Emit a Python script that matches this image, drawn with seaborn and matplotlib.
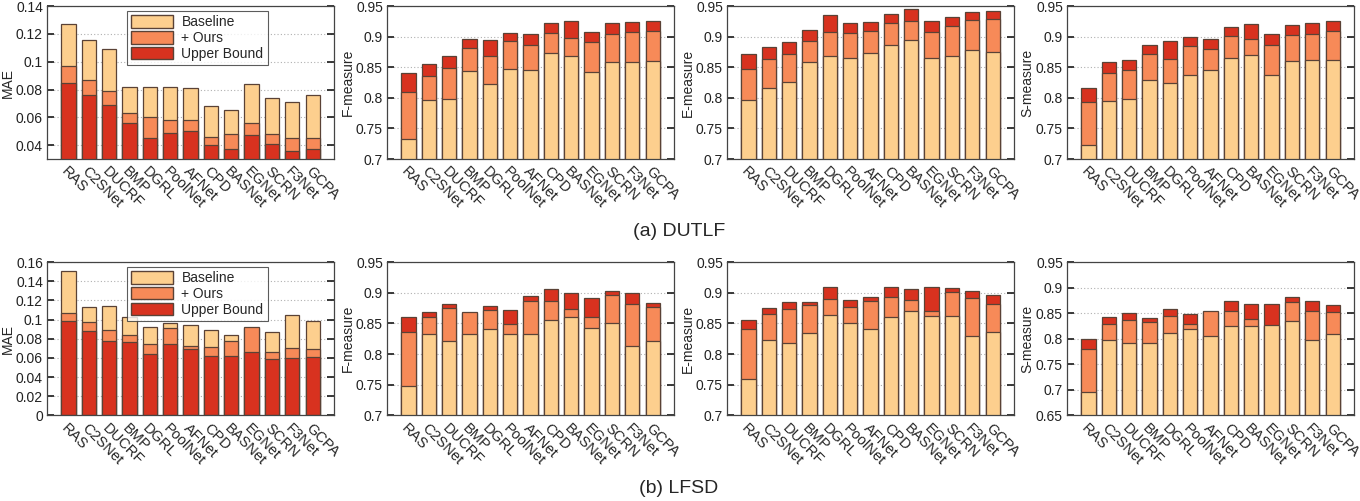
import matplotlib
matplotlib.use("Agg")
import matplotlib.pyplot as plt
from matplotlib.patches import Patch
from matplotlib.ticker import FuncFormatter
import seaborn as sns

sns.set_theme(style="white")
plt.rcParams['font.family'] = ['Liberation Sans', 'DejaVu Sans']

methods = ['RAS', 'C2SNet', 'DUCRF', 'BMP', 'DGRL', 'PoolNet', 'AFNet',
           'CPD', 'BASNet', 'EGNet', 'SCRN', 'F3Net', 'GCPA']

# ---- (a) DUTLF ----
dut_mae_base = [0.127, 0.116, 0.109, 0.082, 0.082, 0.082, 0.081, 0.068, 0.065, 0.084, 0.074, 0.071, 0.076]
dut_mae_ours = [0.097, 0.087, 0.079, 0.063, 0.060, 0.058, 0.058, 0.046, 0.048, 0.056, 0.048, 0.045, 0.045]
dut_mae_up = [0.085, 0.076, 0.069, 0.056, 0.045, 0.049, 0.050, 0.040, 0.037, 0.047, 0.041, 0.036, 0.037]

dut_f_base = [0.733, 0.797, 0.799, 0.844, 0.822, 0.847, 0.846, 0.874, 0.869, 0.842, 0.859, 0.859, 0.860]
dut_f_ours = [0.810, 0.836, 0.849, 0.881, 0.868, 0.893, 0.887, 0.906, 0.898, 0.891, 0.905, 0.907, 0.910]
dut_f_up = [0.841, 0.855, 0.868, 0.896, 0.895, 0.906, 0.905, 0.923, 0.925, 0.908, 0.923, 0.924, 0.925]

dut_e_base = [0.796, 0.816, 0.826, 0.858, 0.869, 0.866, 0.874, 0.886, 0.895, 0.866, 0.869, 0.879, 0.875]
dut_e_ours = [0.848, 0.864, 0.871, 0.893, 0.908, 0.906, 0.910, 0.923, 0.925, 0.908, 0.917, 0.927, 0.929]
dut_e_up = [0.871, 0.883, 0.891, 0.911, 0.935, 0.922, 0.924, 0.937, 0.945, 0.925, 0.932, 0.941, 0.942]

dut_s_base = [0.723, 0.795, 0.799, 0.829, 0.825, 0.838, 0.845, 0.865, 0.870, 0.838, 0.860, 0.862, 0.862]
dut_s_ours = [0.793, 0.840, 0.845, 0.871, 0.864, 0.885, 0.880, 0.901, 0.896, 0.886, 0.903, 0.904, 0.909]
dut_s_up = [0.817, 0.859, 0.862, 0.886, 0.893, 0.900, 0.896, 0.916, 0.921, 0.905, 0.920, 0.922, 0.925]

# ---- (b) LFSD ----
lfsd_mae_base = [0.151, 0.113, 0.114, 0.103, 0.092, 0.096, 0.094, 0.089, 0.084, 0.091, 0.087, 0.105, 0.098]
lfsd_mae_ours = [0.107, 0.097, 0.089, 0.084, 0.074, 0.091, 0.072, 0.071, 0.078, 0.092, 0.066, 0.070, 0.069]
lfsd_mae_up = [0.098, 0.088, 0.078, 0.077, 0.064, 0.074, 0.069, 0.062, 0.062, 0.066, 0.059, 0.060, 0.061]

lfsd_f_base = [0.748, 0.833, 0.822, 0.833, 0.841, 0.832, 0.832, 0.855, 0.861, 0.842, 0.850, 0.813, 0.821]
lfsd_f_ours = [0.836, 0.861, 0.875, 0.868, 0.871, 0.849, 0.886, 0.886, 0.874, 0.860, 0.897, 0.881, 0.876]
lfsd_f_up = [0.861, 0.868, 0.881, 0.867, 0.878, 0.872, 0.894, 0.906, 0.899, 0.891, 0.902, 0.899, 0.883]

lfsd_e_base = [0.760, 0.823, 0.818, 0.835, 0.863, 0.851, 0.841, 0.860, 0.870, 0.862, 0.862, 0.830, 0.836]
lfsd_e_ours = [0.841, 0.866, 0.874, 0.880, 0.890, 0.876, 0.887, 0.893, 0.888, 0.870, 0.901, 0.891, 0.882]
lfsd_e_up = [0.855, 0.875, 0.884, 0.884, 0.909, 0.888, 0.893, 0.909, 0.906, 0.909, 0.908, 0.902, 0.897]

lfsd_s_base = [0.696, 0.797, 0.791, 0.791, 0.811, 0.818, 0.806, 0.825, 0.824, 0.826, 0.835, 0.797, 0.809]
lfsd_s_ours = [0.780, 0.828, 0.837, 0.833, 0.844, 0.829, 0.854, 0.854, 0.838, 0.825, 0.871, 0.854, 0.853]
lfsd_s_up = [0.799, 0.843, 0.850, 0.840, 0.859, 0.848, 0.853, 0.874, 0.867, 0.867, 0.881, 0.874, 0.866]

C_BASE = '#fdcf8e'
C_OURS = '#f78a58'
C_UP = '#d8321f'
EDGE = '#5a4236'

panel_w = 0.211
lefts = [0.0346, 0.2846, 0.5346, 0.7846]
row_bottoms = [0.6826, 0.171]
row_heights = [0.305, 0.306]


def fmt_tick(v, pos):
    return ('%.2f' % v).rstrip('0').rstrip('.') if v != 0 else '0'


def draw_panel(ax, base, ours, up, ylabel, ylim, ticks, lower_better):
    # back-to-front drawing order, later bars cover earlier ones
    if lower_better:
        layers = [(base, C_BASE), (ours, C_OURS), (up, C_UP)]
    else:
        layers = [(up, C_UP), (ours, C_OURS), (base, C_BASE)]
    for vals, col in layers:
        sns.barplot(x=methods, y=vals, color=col, saturation=1, width=0.7,
                    edgecolor=EDGE, linewidth=0.9, ax=ax)
    ax.set_xlim(-1.05, 13.05)
    ax.set_ylim(*ylim)
    ax.set_yticks(ticks)
    ax.yaxis.set_major_formatter(FuncFormatter(fmt_tick))
    ax.grid(axis='y', linestyle=(0, (1, 2)), color='#b0b0b0', linewidth=0.8)
    ax.set_axisbelow(True)
    ax.tick_params(axis='y', direction='in', length=5, right=True, left=True,
                   labelsize=10, colors='#222222', pad=3)
    ax.tick_params(axis='x', length=0, labelsize=10.5, pad=4)
    for lab in ax.get_xticklabels():
        lab.set_rotation(-45)
        lab.set_ha('left')
        lab.set_rotation_mode('anchor')
    for sp in ax.spines.values():
        sp.set_color('#444444')
        sp.set_linewidth(0.9)
    ax.set_ylabel(ylabel, fontsize=10, labelpad=1)
    ax.set_xlabel('')
    if lower_better:
        handles = [Patch(facecolor=C_BASE, edgecolor=EDGE, label='Baseline'),
                   Patch(facecolor=C_OURS, edgecolor=EDGE, label='+ Ours'),
                   Patch(facecolor=C_UP, edgecolor=EDGE, label='Upper Bound')]
        leg = ax.legend(handles=handles, loc='upper left', bbox_to_anchor=(0.27, 0.985),
                        fontsize=10, frameon=True, fancybox=False, borderpad=0.3,
                        handlelength=3.0, handleheight=1.0, labelspacing=0.12,
                        handletextpad=0.6, borderaxespad=0.2)
        leg.get_frame().set_edgecolor('#333333')
        leg.get_frame().set_linewidth(0.8)


mae_top_ticks = [0.04, 0.06, 0.08, 0.10, 0.12, 0.14]
mae_bot_ticks = [0.0, 0.02, 0.04, 0.06, 0.08, 0.10, 0.12, 0.14, 0.16]
m_ticks = [0.70, 0.75, 0.80, 0.85, 0.90, 0.95]
s_bot_ticks = [0.65, 0.70, 0.75, 0.80, 0.85, 0.90, 0.95]

fig = plt.figure(figsize=(13.6, 5.01), dpi=100)

rows = [
    [(dut_mae_base, dut_mae_ours, dut_mae_up, 'MAE', (0.03, 0.14), mae_top_ticks, True),
     (dut_f_base, dut_f_ours, dut_f_up, 'F-measure', (0.7, 0.95), m_ticks, False),
     (dut_e_base, dut_e_ours, dut_e_up, 'E-measure', (0.7, 0.95), m_ticks, False),
     (dut_s_base, dut_s_ours, dut_s_up, 'S-measure', (0.7, 0.95), m_ticks, False)],
    [(lfsd_mae_base, lfsd_mae_ours, lfsd_mae_up, 'MAE', (0.0, 0.16), mae_bot_ticks, True),
     (lfsd_f_base, lfsd_f_ours, lfsd_f_up, 'F-measure', (0.7, 0.95), m_ticks, False),
     (lfsd_e_base, lfsd_e_ours, lfsd_e_up, 'E-measure', (0.7, 0.95), m_ticks, False),
     (lfsd_s_base, lfsd_s_ours, lfsd_s_up, 'S-measure', (0.65, 0.95), s_bot_ticks, False)],
]

for r, row in enumerate(rows):
    for c, spec in enumerate(row):
        ax = fig.add_axes([lefts[c], row_bottoms[r], panel_w, row_heights[r]])
        draw_panel(ax, *spec)

fig.text(0.499, 0.537, '(a) DUTLF', ha='center', va='center', fontsize=14)
fig.text(0.499, 0.025, '(b) LFSD', ha='center', va='center', fontsize=14)

fig.savefig('out.png', dpi=100, facecolor='white')
